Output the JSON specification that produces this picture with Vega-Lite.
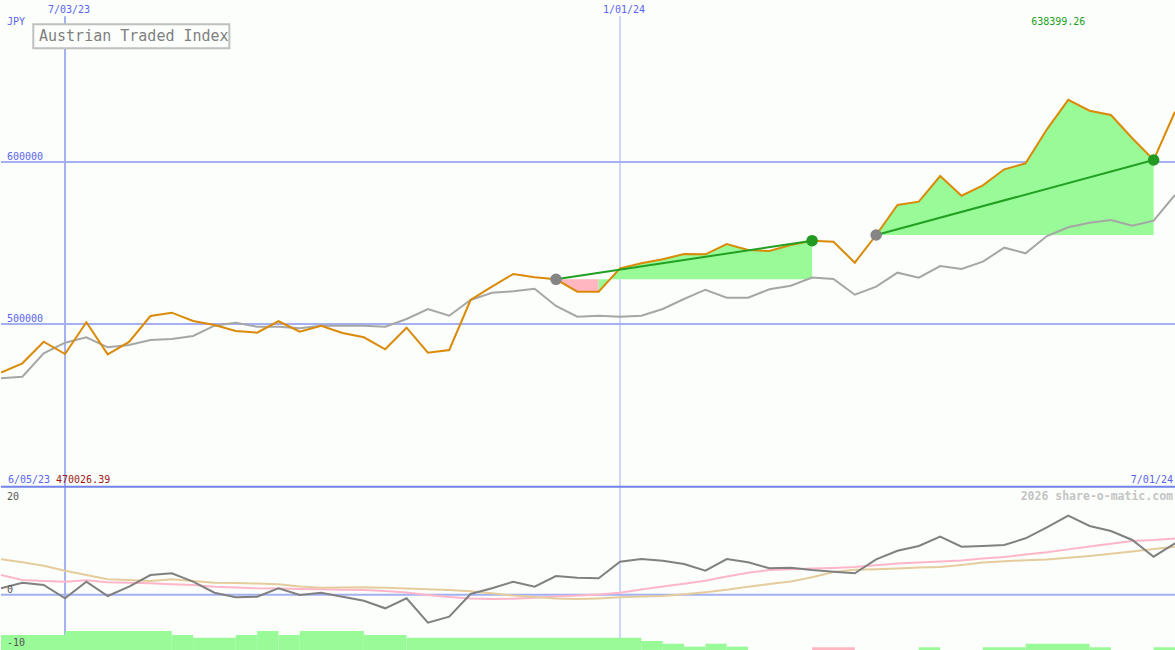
{
  "$schema": "https://vega.github.io/schema/vega-lite/v6.json",
  "background": "#fbfefb",
  "padding": 0,
  "bounds": "flush",
  "spacing": 0,
  "config": {"view": {"stroke": null}, "font": "DejaVu Sans Mono", "text": {"font": "DejaVu Sans Mono"}},
  "resolve": {"scale": {"y": "independent"}},
  "datasets": {
    "main": [
      {"d":"2023-06-12","p":470026.39,"g":466480,"o":1.29,"m1":3.98,"m2":7.16},
      {"d":"2023-06-19","p":475740,"g":467470,"o":2.42,"m1":2.97,"m2":6.55},
      {"d":"2023-06-26","p":489080,"g":481920,"o":1.96,"m1":2.77,"m2":5.87},
      {"d":"2023-07-03","p":481480,"g":488460,"o":-0.74,"m1":2.63,"m2":4.85},
      {"d":"2023-07-10","p":501050,"g":491790,"o":2.63,"m1":2.93,"m2":3.98},
      {"d":"2023-07-17","p":481300,"g":485620,"o":-0.27,"m1":2.50,"m2":3.11},
      {"d":"2023-07-24","p":488900,"g":487040,"o":1.61,"m1":2.40,"m2":2.95},
      {"d":"2023-07-31","p":504940,"g":490130,"o":3.98,"m1":2.30,"m2":2.77},
      {"d":"2023-08-07","p":506980,"g":490740,"o":4.33,"m1":2.12,"m2":3.11},
      {"d":"2023-08-14","p":501850,"g":492590,"o":2.63,"m1":1.96,"m2":2.77},
      {"d":"2023-08-21","p":499380,"g":498950,"o":0.40,"m1":1.61,"m2":2.42},
      {"d":"2023-08-28","p":495680,"g":500800,"o":-0.53,"m1":1.45,"m2":2.34},
      {"d":"2023-09-04","p":494630,"g":498330,"o":-0.41,"m1":1.29,"m2":2.26},
      {"d":"2023-09-11","p":501700,"g":498300,"o":1.29,"m1":1.23,"m2":2.12},
      {"d":"2023-09-18","p":495250,"g":497350,"o":-0.07,"m1":1.15,"m2":1.65},
      {"d":"2023-09-25","p":498950,"g":498950,"o":0.40,"m1":1.09,"m2":1.41},
      {"d":"2023-10-02","p":494500,"g":498900,"o":-0.41,"m1":1.01,"m2":1.45},
      {"d":"2023-10-09","p":491790,"g":498950,"o":-1.22,"m1":0.95,"m2":1.49},
      {"d":"2023-10-16","p":484390,"g":498330,"o":-2.76,"m1":0.74,"m2":1.39},
      {"d":"2023-10-23","p":497720,"g":503090,"o":-0.74,"m1":0.46,"m2":1.25},
      {"d":"2023-10-30","p":482290,"g":509260,"o":-5.68,"m1":-0.07,"m2":1.11},
      {"d":"2023-11-06","p":483950,"g":505130,"o":-4.46,"m1":-0.45,"m2":0.97},
      {"d":"2023-11-13","p":514820,"g":514820,"o":0.14,"m1":-0.76,"m2":0.68},
      {"d":"2023-11-20","p":523030,"g":519320,"o":1.29,"m1":-0.88,"m2":0.28},
      {"d":"2023-11-27","p":530870,"g":520190,"o":2.63,"m1":-0.82,"m2":-0.19},
      {"d":"2023-12-04","p":528830,"g":521790,"o":1.61,"m1":-0.61,"m2":-0.47},
      {"d":"2023-12-11","p":527590,"g":511110,"o":3.78,"m1":-0.39,"m2":-0.76},
      {"d":"2023-12-18","p":519940,"g":504510,"o":3.44,"m1":-0.17,"m2":-0.90},
      {"d":"2023-12-25","p":519900,"g":505130,"o":3.31,"m1":0.03,"m2":-0.76},
      {"d":"2024-01-01","p":534380,"g":504510,"o":6.68,"m1":0.38,"m2":-0.53},
      {"d":"2024-01-08","p":537470,"g":505130,"o":7.22,"m1":1.05,"m2":-0.37},
      {"d":"2024-01-15","p":539940,"g":509260,"o":6.88,"m1":1.67,"m2":-0.25},
      {"d":"2024-01-22","p":543210,"g":515430,"o":6.21,"m1":2.22,"m2":0.07},
      {"d":"2024-01-29","p":543000,"g":521170,"o":4.85,"m1":2.83,"m2":0.50},
      {"d":"2024-02-05","p":549380,"g":516240,"o":7.22,"m1":3.68,"m2":0.99},
      {"d":"2024-02-12","p":545680,"g":516200,"o":6.55,"m1":4.43,"m2":1.61},
      {"d":"2024-02-19","p":545060,"g":521420,"o":5.34,"m1":4.99,"m2":2.14},
      {"d":"2024-02-26","p":548770,"g":523640,"o":5.46,"m1":5.16,"m2":2.69},
      {"d":"2024-03-04","p":551420,"g":528710,"o":4.99,"m1":5.28,"m2":3.52},
      {"d":"2024-03-11","p":550800,"g":527780,"o":4.65,"m1":5.42,"m2":4.59},
      {"d":"2024-03-18","p":537840,"g":518090,"o":4.33,"m1":5.60,"m2":5.04},
      {"d":"2024-03-25","p":554940,"g":523030,"o":7.16,"m1":5.95,"m2":5.16},
      {"d":"2024-04-01","p":573460,"g":531670,"o":8.90,"m1":6.31,"m2":5.32},
      {"d":"2024-04-08","p":575500,"g":528580,"o":9.85,"m1":6.51,"m2":5.48},
      {"d":"2024-04-15","p":591360,"g":535800,"o":11.74,"m1":6.72,"m2":5.62},
      {"d":"2024-04-22","p":579200,"g":533950,"o":9.71,"m1":6.92,"m2":6.03},
      {"d":"2024-04-29","p":585620,"g":538460,"o":9.85,"m1":7.30,"m2":6.49},
      {"d":"2024-05-06","p":595500,"g":547100,"o":10.06,"m1":7.63,"m2":6.78},
      {"d":"2024-05-13","p":599200,"g":543640,"o":11.41,"m1":8.13,"m2":6.98},
      {"d":"2024-05-20","p":620190,"g":554320,"o":13.64,"m1":8.60,"m2":7.14},
      {"d":"2024-05-27","p":638399.26,"g":559690,"o":15.99,"m1":9.17,"m2":7.49},
      {"d":"2024-06-03","p":631670,"g":562530,"o":13.90,"m1":9.75,"m2":7.85},
      {"d":"2024-06-10","p":629010,"g":564200,"o":12.89,"m1":10.30,"m2":8.27},
      {"d":"2024-06-17","p":614630,"g":560680,"o":11.07,"m1":10.85,"m2":8.72},
      {"d":"2024-06-24","p":601240,"g":563770,"o":7.69,"m1":11.07,"m2":9.25},
      {"d":"2024-07-01","p":631050,"g":579630,"o":10.40,"m1":11.39,"m2":9.71}
    ],
    "fill": [
      {"d":"2023-12-11","p":527590,"b":527590,"grp":"a"},
      {"d":"2023-12-18","p":519940,"b":527590,"grp":"a"},
      {"d":"2023-12-25","p":519900,"b":527590,"grp":"a"},
      {"d":"2023-12-25","p":519900,"b":527590,"grp":"b"},
      {"d":"2024-01-01","p":534380,"b":527590,"grp":"b"},
      {"d":"2024-01-08","p":537470,"b":527590,"grp":"b"},
      {"d":"2024-01-15","p":539940,"b":527590,"grp":"b"},
      {"d":"2024-01-22","p":543210,"b":527590,"grp":"b"},
      {"d":"2024-01-29","p":543000,"b":527590,"grp":"b"},
      {"d":"2024-02-05","p":549380,"b":527590,"grp":"b"},
      {"d":"2024-02-12","p":545680,"b":527590,"grp":"b"},
      {"d":"2024-02-19","p":545060,"b":527590,"grp":"b"},
      {"d":"2024-02-26","p":548770,"b":527590,"grp":"b"},
      {"d":"2024-03-04","p":551420,"b":527590,"grp":"b"},
      {"d":"2024-03-25","p":554940,"b":554940,"grp":"c"},
      {"d":"2024-04-01","p":573460,"b":554940,"grp":"c"},
      {"d":"2024-04-08","p":575500,"b":554940,"grp":"c"},
      {"d":"2024-04-15","p":591360,"b":554940,"grp":"c"},
      {"d":"2024-04-22","p":579200,"b":554940,"grp":"c"},
      {"d":"2024-04-29","p":585620,"b":554940,"grp":"c"},
      {"d":"2024-05-06","p":595500,"b":554940,"grp":"c"},
      {"d":"2024-05-13","p":599200,"b":554940,"grp":"c"},
      {"d":"2024-05-20","p":620190,"b":554940,"grp":"c"},
      {"d":"2024-05-27","p":638399.26,"b":554940,"grp":"c"},
      {"d":"2024-06-03","p":631670,"b":554940,"grp":"c"},
      {"d":"2024-06-10","p":629010,"b":554940,"grp":"c"},
      {"d":"2024-06-17","p":614630,"b":554940,"grp":"c"},
      {"d":"2024-06-24","p":601240,"b":554940,"grp":"c"}
    ],
    "trend": [
      {"d":"2023-12-11","v":527590,"s":1},
      {"d":"2024-03-04","v":551420,"s":1},
      {"d":"2024-03-25","v":554940,"s":2},
      {"d":"2024-06-24","v":601240,"s":2}
    ],
    "dots": [
      {"d":"2023-12-11","v":527590,"k":"s"},
      {"d":"2024-03-25","v":554940,"k":"s"},
      {"d":"2024-03-04","v":551420,"k":"e"},
      {"d":"2024-06-24","v":601240,"k":"e"}
    ],
    "bars": [
      {"d":"2023-06-12","d2":"2023-07-03","v":-8.17,"k":"g"},
      {"d":"2023-07-03","d2":"2023-08-07","v":-7.36,"k":"g"},
      {"d":"2023-08-07","d2":"2023-08-14","v":-8.17,"k":"g"},
      {"d":"2023-08-14","d2":"2023-08-28","v":-8.71,"k":"g"},
      {"d":"2023-08-28","d2":"2023-09-04","v":-8.17,"k":"g"},
      {"d":"2023-09-04","d2":"2023-09-11","v":-7.36,"k":"g"},
      {"d":"2023-09-11","d2":"2023-09-18","v":-8.17,"k":"g"},
      {"d":"2023-09-18","d2":"2023-10-09","v":-7.36,"k":"g"},
      {"d":"2023-10-09","d2":"2023-10-23","v":-8.17,"k":"g"},
      {"d":"2023-10-23","d2":"2024-01-08","v":-8.71,"k":"g"},
      {"d":"2024-01-08","d2":"2024-01-15","v":-9.38,"k":"g"},
      {"d":"2024-01-15","d2":"2024-01-22","v":-9.93,"k":"g"},
      {"d":"2024-01-22","d2":"2024-01-29","v":-10.53,"k":"g"},
      {"d":"2024-01-29","d2":"2024-02-05","v":-9.93,"k":"g"},
      {"d":"2024-02-05","d2":"2024-02-12","v":-10.53,"k":"g"},
      {"d":"2024-03-04","d2":"2024-03-18","v":-10.65,"k":"p"},
      {"d":"2024-04-08","d2":"2024-04-15","v":-10.65,"k":"g"},
      {"d":"2024-04-29","d2":"2024-05-13","v":-10.65,"k":"g"},
      {"d":"2024-05-13","d2":"2024-06-03","v":-9.93,"k":"g"},
      {"d":"2024-06-03","d2":"2024-06-10","v":-10.65,"k":"g"},
      {"d":"2024-06-24","d2":"2024-07-01","v":-10.65,"k":"g"}
    ]
  },
  "vconcat": [
    {
      "width": 1175,
      "height": 486,
      "layer": [
        {"data": {"values": [{"v": 600000}, {"v": 500000}]},
         "mark": {"type": "rule", "color": "#a3b1f3", "strokeWidth": 2},
         "encoding": {"y": {"field": "v", "type": "quantitative", "scale": {"domain": [400000, 700000], "nice": false, "zero": false}, "axis": null}}},
        {"data": {"values": [{}]},
         "mark": {"type": "rule", "color": "#a3b1f3", "strokeWidth": 2},
         "encoding": {
           "x": {"datum": {"year": 2023, "month": 7, "date": 3, "utc": true}, "type": "temporal", "scale": {"type": "utc", "domain": [{"year": 2023, "month": 6, "date": 12, "utc": true}, {"year": 2024, "month": 7, "date": 1, "hours": 8, "utc": true}]}, "axis": null},
           "y": {"datum": 690000, "type": "quantitative", "scale": {"domain": [400000, 700000], "nice": false, "zero": false}, "axis": null},
           "y2": {"datum": 400000}}},
        {"data": {"values": [{}]},
         "mark": {"type": "rule", "color": "#a3b1f3", "strokeWidth": 1},
         "encoding": {
           "x": {"datum": {"year": 2024, "month": 1, "date": 1, "utc": true}, "type": "temporal", "scale": {"type": "utc", "domain": [{"year": 2023, "month": 6, "date": 12, "utc": true}, {"year": 2024, "month": 7, "date": 1, "hours": 8, "utc": true}]}, "axis": null},
           "y": {"datum": 690000, "type": "quantitative", "scale": {"domain": [400000, 700000], "nice": false, "zero": false}, "axis": null},
           "y2": {"datum": 400000}}},
        {"data": {"values": [{}]},
         "mark": {"type": "rect", "fill": "#fbfefb", "stroke": "#c0c0c0", "strokeWidth": 2},
         "encoding": {
           "x": {"datum": {"year": 2023, "month": 6, "date": 22, "hours": 14, "utc": true}, "type": "temporal", "scale": {"type": "utc", "domain": [{"year": 2023, "month": 6, "date": 12, "utc": true}, {"year": 2024, "month": 7, "date": 1, "hours": 8, "utc": true}]}, "axis": null},
           "x2": {"datum": {"year": 2023, "month": 8, "date": 25, "hours": 21, "utc": true}},
           "y": {"datum": 685000, "type": "quantitative", "scale": {"domain": [400000, 700000], "nice": false, "zero": false}, "axis": null},
           "y2": {"datum": 670200}}},
        {"data": {"values": [{"t": "Austrian Traded Index"}]},
         "mark": {"type": "text", "align": "left", "baseline": "alphabetic", "dx": 38, "fontSize": 15, "color": "#808080"},
         "encoding": {
           "x": {"datum": {"year": 2023, "month": 6, "date": 12, "utc": true}, "type": "temporal"},
           "y": {"datum": 674700, "type": "quantitative"},
           "text": {"field": "t"}}},
        {"data": {"name": "fill"},
         "transform": [{"filter": {"field": "grp", "equal": "a"}}],
         "mark": {"type": "area", "color": "#ffb6c1", "opacity": 1},
         "encoding": {
           "x": {"field": "d", "type": "temporal"},
           "y": {"field": "p", "type": "quantitative"},
           "y2": {"field": "b"}}},
        {"data": {"name": "fill"},
         "transform": [{"filter": {"field": "grp", "oneOf": ["b", "c"]}}],
         "mark": {"type": "area", "color": "#98fb98", "opacity": 1},
         "encoding": {
           "x": {"field": "d", "type": "temporal"},
           "y": {"field": "p", "type": "quantitative"},
           "y2": {"field": "b"},
           "detail": {"field": "grp"}}},
        {"data": {"name": "main"},
         "mark": {"type": "line", "color": "#a6a6a6", "strokeWidth": 2, "clip": true},
         "encoding": {
           "x": {"field": "d", "type": "temporal"},
           "y": {"field": "g", "type": "quantitative"}}},
        {"data": {"name": "main"},
         "mark": {"type": "line", "color": "#da8a06", "strokeWidth": 2, "clip": true},
         "encoding": {
           "x": {"field": "d", "type": "temporal"},
           "y": {"field": "p", "type": "quantitative"}}},
        {"data": {"name": "trend"},
         "mark": {"type": "line", "color": "#22a022", "strokeWidth": 2},
         "encoding": {
           "x": {"field": "d", "type": "temporal"},
           "y": {"field": "v", "type": "quantitative"},
           "detail": {"field": "s"}}},
        {"data": {"name": "dots"},
         "transform": [{"filter": {"field": "k", "equal": "s"}}],
         "mark": {"type": "point", "filled": true, "opacity": 1, "size": 135, "color": "#858585"},
         "encoding": {
           "x": {"field": "d", "type": "temporal"},
           "y": {"field": "v", "type": "quantitative"}}},
        {"data": {"name": "dots"},
         "transform": [{"filter": {"field": "k", "equal": "e"}}],
         "mark": {"type": "point", "filled": true, "opacity": 1, "size": 135, "color": "#229a22"},
         "encoding": {
           "x": {"field": "d", "type": "temporal"},
           "y": {"field": "v", "type": "quantitative"}}},
        {"data": {"values": [{"t": "JPY", "v": 684800}, {"t": "600000", "v": 601240}, {"t": "500000", "v": 501240}]},
         "mark": {"type": "text", "align": "left", "baseline": "alphabetic", "dx": 6, "fontSize": 10, "color": "#5a64ee"},
         "encoding": {
           "x": {"datum": {"year": 2023, "month": 6, "date": 12, "utc": true}, "type": "temporal"},
           "y": {"field": "v", "type": "quantitative"},
           "text": {"field": "t"}}},
        {"data": {"values": [{"t": "7/03/23", "d": "2023-07-03"}, {"t": "1/01/24", "d": "2024-01-01"}]},
         "mark": {"type": "text", "align": "center", "baseline": "alphabetic", "dx": 4, "fontSize": 10, "color": "#5a64ee"},
         "encoding": {
           "x": {"field": "d", "type": "temporal"},
           "y": {"datum": 691975, "type": "quantitative"},
           "text": {"field": "t"}}},
        {"data": {"values": [{"t": "638399.26", "d": "2024-05-27"}]},
         "mark": {"type": "text", "align": "center", "baseline": "alphabetic", "dx": -10, "fontSize": 10, "color": "#22a022"},
         "encoding": {
           "x": {"field": "d", "type": "temporal"},
           "y": {"datum": 684800, "type": "quantitative"},
           "text": {"field": "t"}}},
        {"data": {"values": [{"t": "6/05/23"}]},
         "mark": {"type": "text", "align": "left", "baseline": "alphabetic", "dx": 7, "fontSize": 10, "color": "#5a64ee"},
         "encoding": {
           "x": {"datum": {"year": 2023, "month": 6, "date": 12, "utc": true}, "type": "temporal"},
           "y": {"datum": 402100, "type": "quantitative"},
           "text": {"field": "t"}}},
        {"data": {"values": [{"t": "470026.39"}]},
         "mark": {"type": "text", "align": "left", "baseline": "alphabetic", "dx": 55, "fontSize": 10, "color": "#a01818"},
         "encoding": {
           "x": {"datum": {"year": 2023, "month": 6, "date": 12, "utc": true}, "type": "temporal"},
           "y": {"datum": 402100, "type": "quantitative"},
           "text": {"field": "t"}}},
        {"data": {"values": [{"t": "7/01/24"}]},
         "mark": {"type": "text", "align": "right", "baseline": "alphabetic", "dx": -2, "fontSize": 10, "color": "#5a64ee"},
         "encoding": {
           "x": {"datum": {"year": 2024, "month": 7, "date": 1, "utc": true}, "type": "temporal"},
           "y": {"datum": 402100, "type": "quantitative"},
           "text": {"field": "t"}}}
      ]
    },
    {
      "width": 1175,
      "height": 164,
      "layer": [
        {"data": {"values": [{"v": 0}]},
         "mark": {"type": "rule", "color": "#a3b1f3", "strokeWidth": 2},
         "encoding": {"y": {"field": "v", "type": "quantitative", "scale": {"domain": [-11.2, 22], "nice": false, "zero": false}, "axis": null}}},
        {"data": {"values": [{}]},
         "mark": {"type": "rule", "color": "#a3b1f3", "strokeWidth": 2},
         "encoding": {
           "x": {"datum": {"year": 2023, "month": 7, "date": 3, "utc": true}, "type": "temporal", "scale": {"type": "utc", "domain": [{"year": 2023, "month": 6, "date": 12, "utc": true}, {"year": 2024, "month": 7, "date": 1, "hours": 8, "utc": true}]}, "axis": null},
           "y": {"datum": 22, "type": "quantitative", "scale": {"domain": [-11.2, 22], "nice": false, "zero": false}, "axis": null},
           "y2": {"datum": -11.2}}},
        {"data": {"values": [{}]},
         "mark": {"type": "rule", "color": "#a3b1f3", "strokeWidth": 1},
         "encoding": {
           "x": {"datum": {"year": 2024, "month": 1, "date": 1, "utc": true}, "type": "temporal", "scale": {"type": "utc", "domain": [{"year": 2023, "month": 6, "date": 12, "utc": true}, {"year": 2024, "month": 7, "date": 1, "hours": 8, "utc": true}]}, "axis": null},
           "y": {"datum": 22, "type": "quantitative", "scale": {"domain": [-11.2, 22], "nice": false, "zero": false}, "axis": null},
           "y2": {"datum": -11.2}}},
        {"data": {"values": [{}]},
         "mark": {"type": "rule", "color": "#7383ea", "strokeWidth": 2},
         "encoding": {"y": {"datum": 21.85, "type": "quantitative"}}},
        {"data": {"name": "main"},
         "mark": {"type": "line", "color": "#ffb6c8", "strokeWidth": 2, "clip": true},
         "encoding": {
           "x": {"field": "d", "type": "temporal"},
           "y": {"field": "m1", "type": "quantitative"}}},
        {"data": {"name": "main"},
         "mark": {"type": "line", "color": "#e5cc9c", "strokeWidth": 2, "clip": true},
         "encoding": {
           "x": {"field": "d", "type": "temporal"},
           "y": {"field": "m2", "type": "quantitative"}}},
        {"data": {"name": "main"},
         "mark": {"type": "line", "color": "#808080", "strokeWidth": 2, "clip": true},
         "encoding": {
           "x": {"field": "d", "type": "temporal"},
           "y": {"field": "o", "type": "quantitative"}}},
        {"data": {"name": "bars"},
         "transform": [{"filter": {"field": "k", "equal": "g"}}],
         "mark": {"type": "rect", "color": "#98fb98", "opacity": 1},
         "encoding": {
           "x": {"field": "d", "type": "temporal"},
           "x2": {"field": "d2"},
           "y": {"field": "v", "type": "quantitative"},
           "y2": {"datum": -11.2}}},
        {"data": {"name": "bars"},
         "transform": [{"filter": {"field": "k", "equal": "p"}}],
         "mark": {"type": "rect", "color": "#ffb6c1", "opacity": 1},
         "encoding": {
           "x": {"field": "d", "type": "temporal"},
           "x2": {"field": "d2"},
           "y": {"field": "v", "type": "quantitative"},
           "y2": {"datum": -11.2}}},
        {"data": {"values": [{"t": "20", "v": 19.25}, {"t": "0", "v": 0.42}, {"t": "-10", "v": -10.37}]},
         "mark": {"type": "text", "align": "left", "baseline": "alphabetic", "dx": 6, "fontSize": 10, "color": "#555555"},
         "encoding": {
           "x": {"datum": {"year": 2023, "month": 6, "date": 12, "utc": true}, "type": "temporal"},
           "y": {"field": "v", "type": "quantitative"},
           "text": {"field": "t"}}},
        {"data": {"values": [{"t": "2026 share-o-matic.com"}]},
         "mark": {"type": "text", "align": "right", "baseline": "alphabetic", "dx": -2, "fontSize": 11.5, "fontWeight": "bold", "color": "#c4c4c4"},
         "encoding": {
           "x": {"datum": {"year": 2024, "month": 7, "date": 1, "utc": true}, "type": "temporal"},
           "y": {"datum": 19.13, "type": "quantitative"},
           "text": {"field": "t"}}}
      ]
    }
  ]
}
